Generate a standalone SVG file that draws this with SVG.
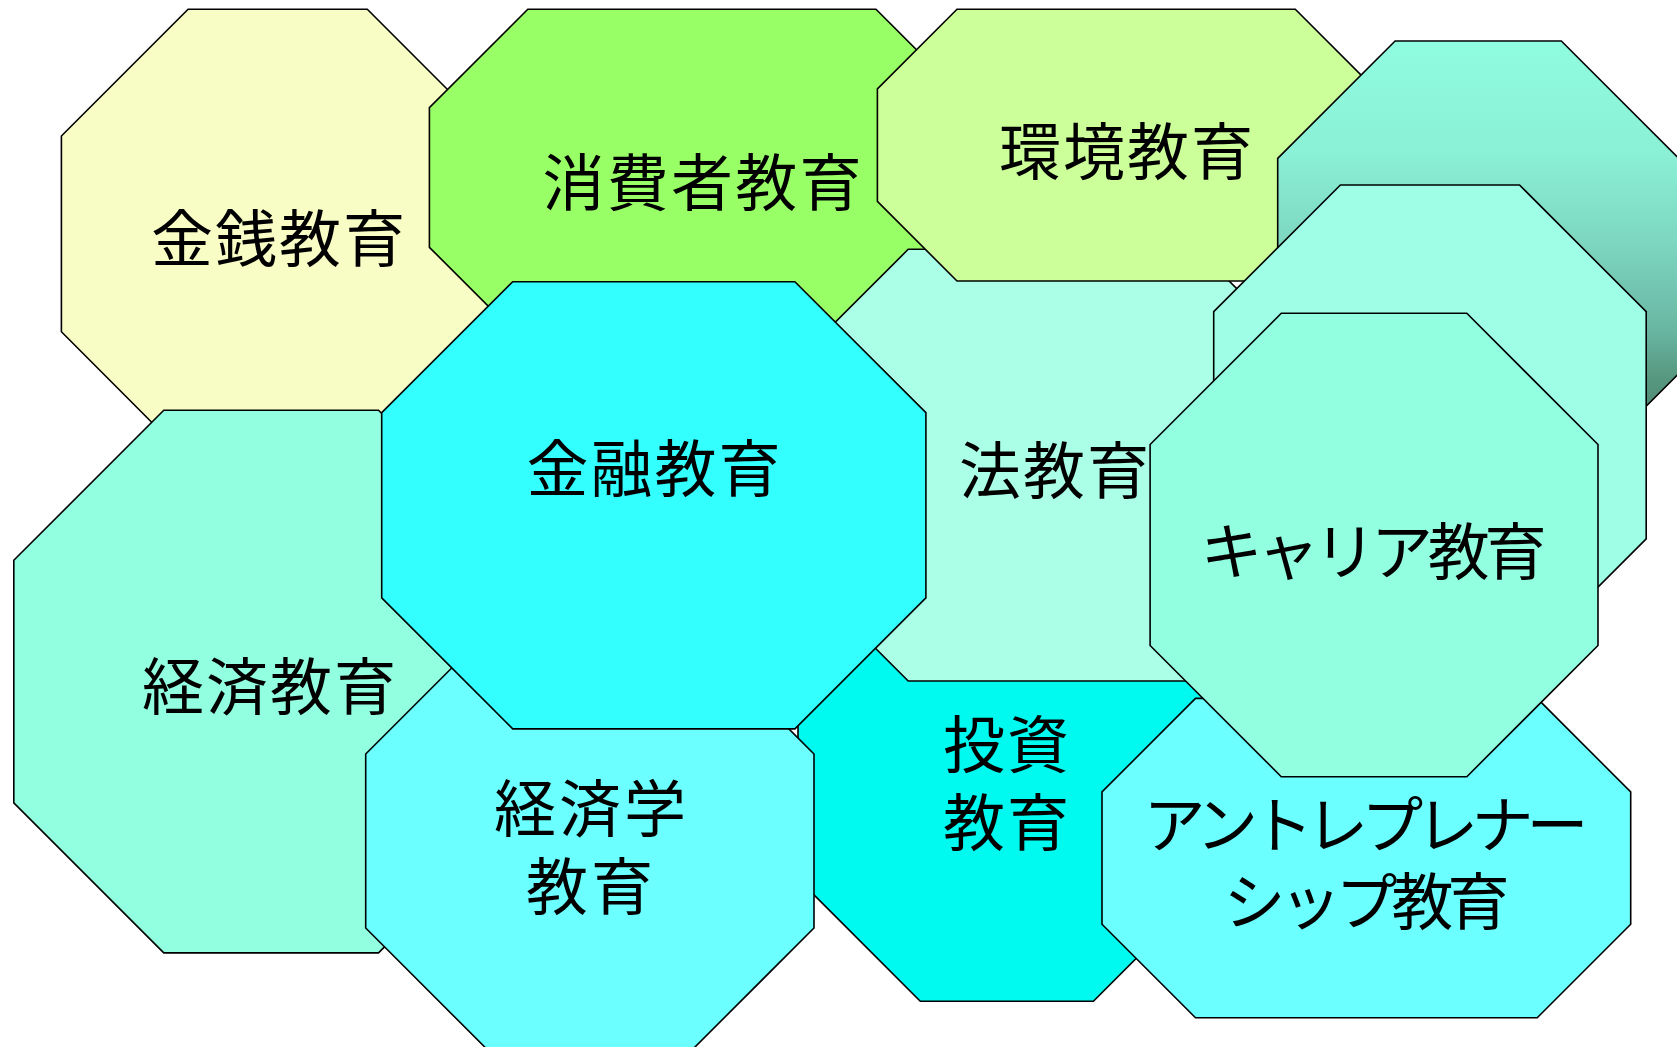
<svg xmlns="http://www.w3.org/2000/svg" width="1677" height="1047" viewBox="0 0 1677 1047">
<style>
.s{stroke:#000;stroke-width:1.6;stroke-linejoin:miter}
.t{font-family:"Noto Sans CJK JP","Noto Sans CJK SC",sans-serif;font-size:62px;fill:#000;text-anchor:middle}
</style>
<defs>
<linearGradient id="g1" x1="0" y1="0" x2="0" y2="1">
<stop offset="0" stop-color="#90FCDF"/>
<stop offset="0.25" stop-color="#8AF0D6"/>
<stop offset="0.45" stop-color="#7DD6C0"/>
<stop offset="0.64" stop-color="#69B7A3"/>
<stop offset="0.75" stop-color="#57977F"/>
<stop offset="1" stop-color="#3E6F60"/>
</linearGradient>
</defs>
<rect width="1677" height="1047" fill="#fff"/>
<g id="kinsen">
<polygon class="s" fill="#F8FCC5" points="188.1,9.3 367.3,9.3 494,136 494,331.7 367.3,458.7 188.1,458.7 61.4,331.7 61.4,136"/>
<text class="t" x="278" y="262" textLength="254">金銭教育</text>
</g>
<g id="shohisha">
<polygon class="s" fill="#99FF66" points="527.8,9.3 876,9.3 974.4,107.7 974.4,247.3 876,345.7 527.8,345.7 429.4,247.3 429.4,107.7"/>
<text class="t" x="702" y="206" textLength="319">消費者教育</text>
</g>
<g id="keizai">
<polygon class="s" fill="#92FFE0" points="163.8,410.3 378.5,410.3 528.5,560.3 528.5,802.9 378.5,952.9 163.8,952.9 13.8,802.9 13.8,560.3"/>
<text class="t" x="269" y="710" textLength="254">経済教育</text>
</g>
<g id="toushi">
<polygon class="s" fill="#00FAF0" points="920.3,565 1093.4,565 1215.7,687.3 1215.7,878.9 1093.4,1001.2 920.3,1001.2 798,878.9 798,687.3"/>
<text class="t"><tspan x="1006" y="768" textLength="126">投資</tspan><tspan x="1006" y="845.5" textLength="126">教育</tspan></text>
</g>
<g id="hou">
<polygon class="s" fill="#ABFFE6" points="908.2,249.3 1197.4,249.3 1323.8,375.7 1323.8,554.6 1197.4,681 908.2,681 781.8,554.6 781.8,375.7"/>
<text class="t" x="1054" y="494" textLength="190">法教育</text>
</g>
<g id="kankyo">
<polygon class="s" fill="#CCFF99" points="957,9.3 1295.3,9.3 1374.9,88.9 1374.9,201.4 1295.3,281 957,281 877.4,201.4 877.4,88.9"/>
<text class="t" x="1126" y="174.5" textLength="254">環境教育</text>
</g>
<g id="gradient-octagon">
<polygon class="s" fill="url(#g1)" points="1395.1,41 1561.3,41 1678.7,158.4 1678.7,373.6 1561.3,491 1395.1,491 1277.7,373.6 1277.7,158.4"/>
</g>
<g id="blank-octagon">
<polygon class="s" fill="#9FFFE6" points="1340.4,185 1519.5,185 1646.2,311.7 1646.2,538.9 1519.5,665.6 1340.4,665.6 1213.7,538.9 1213.7,311.7"/>
</g>
<g id="keizaigaku">
<polygon class="s" fill="#6BFFFF" points="488.7,631 691,631 814,754 814,928 691,1051 488.7,1051 365.7,928 365.7,754"/>
<text class="t"><tspan x="590" y="831.5" textLength="192">経済学</tspan><tspan x="589.5" y="910" textLength="127">教育</tspan></text>
</g>
<g id="kinyu">
<polygon class="s" fill="#33FFFF" points="512.7,281.7 794.9,281.7 925.9,412.7 925.9,597.9 794.9,728.9 512.7,728.9 381.7,597.9 381.7,412.7"/>
<text class="t" x="653.5" y="492" textLength="254">金融教育</text>
</g>
<g id="entrepreneurship">
<polygon class="s" fill="#6BFFFF" points="1195.5,698.4 1537.2,698.4 1630.7,791.9 1630.7,924.2 1537.2,1017.7 1195.5,1017.7 1102,924.2 1102,791.9"/>
<text class="t"><tspan x="1366" y="848" textLength="445">アントレプレナー</tspan><tspan x="1366.5" y="925" textLength="286">シップ教育</tspan></text>
</g>
<g id="career">
<polygon class="s" fill="#92FFE0" points="1281.3,313.3 1466.8,313.3 1598,444.5 1598,645.5 1466.8,776.7 1281.3,776.7 1150.1,645.5 1150.1,444.5"/>
<text class="t" x="1373.5" y="574.5" textLength="346">キャリア教育</text>
</g>
</svg>
